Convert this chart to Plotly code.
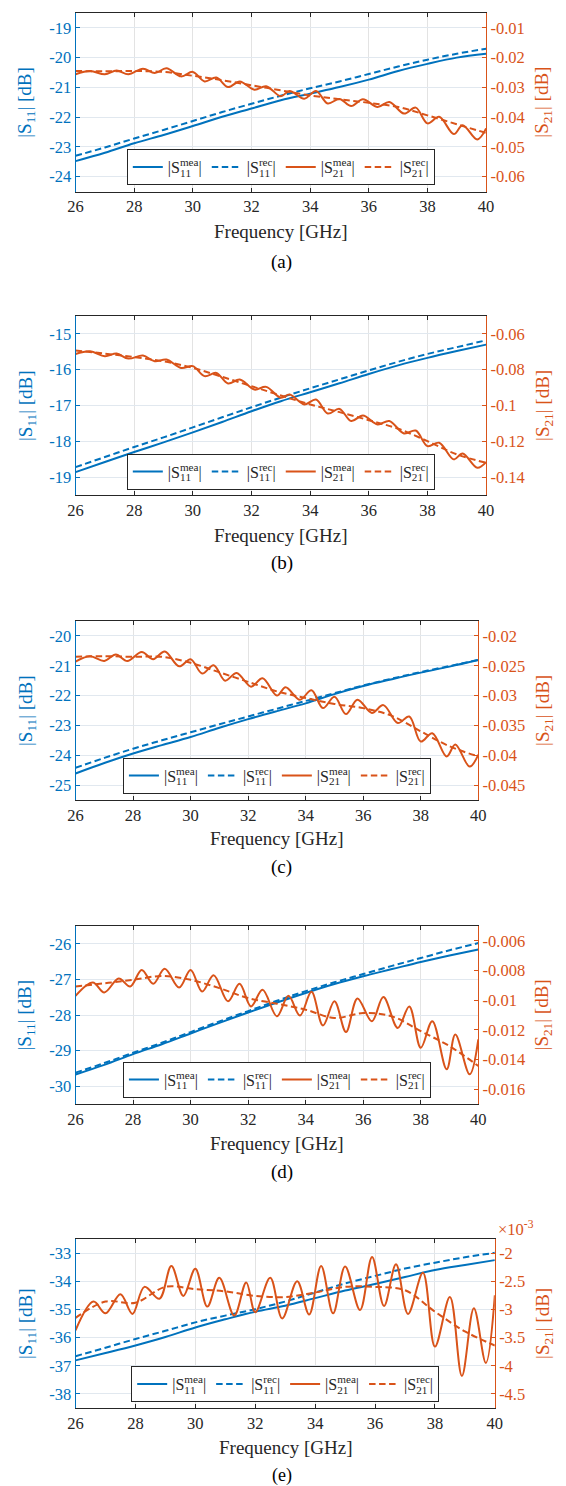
import plotly.graph_objects as go

W, H = 566, 1486
BLUE = '#0072BD'
ORANGE = '#D95319'
DARK = '#262626'
FONT = 'Liberation Serif, Times New Roman, serif'

# ---------------- data ----------------
freq = [26, 27, 28, 29, 30, 31, 32, 33, 34, 35, 36, 37, 38, 39, 40]
x_ticks = [26, 28, 30, 32, 34, 36, 38, 40]

# frequencies of the read-off turning points of the measured |S21| ripple
fm_abc = [26.0, 26.5, 27.0, 27.4, 27.8, 28.3, 28.7, 29.1, 29.6, 30.0, 30.4, 30.8, 31.2, 31.6, 32.1, 32.5, 33.0,
          33.3, 33.8, 34.2, 34.6, 35.0, 35.4, 35.8, 36.3, 36.7, 37.2, 37.6, 38.0, 38.4, 38.9, 39.2, 39.7, 40.0]
fm_d = [26.0, 26.6, 27.0, 27.5, 27.9, 28.3, 28.7, 29.1, 29.6, 30.0, 30.4, 30.8, 31.3, 31.7, 32.1, 32.5, 33.0,
        33.4, 33.8, 34.2, 34.6, 35.0, 35.4, 35.8, 36.3, 36.7, 37.2, 37.6, 38.0, 38.4, 38.9, 39.2, 39.7, 40.0]
fm_e = [26.0, 26.6, 27.0, 27.5, 27.9, 28.3, 28.8, 29.2, 29.6, 30.0, 30.4, 30.8, 31.3, 31.7, 32.0, 32.5, 32.9,
        33.4, 33.8, 34.2, 34.6, 35.0, 35.5, 35.9, 36.3, 36.7, 37.1, 37.6, 38.0, 38.5, 38.9, 39.3, 39.7, 40.0]

# (a)
a_s11_mea = [-23.48, -23.20, -22.88, -22.60, -22.30, -21.99, -21.71, -21.43, -21.21, -20.99, -20.74, -20.45, -20.21, -20.00, -19.87]
a_s11_rec = [-23.30, -23.02, -22.72, -22.43, -22.13, -21.83, -21.55, -21.28, -21.03, -20.80, -20.55, -20.30, -20.07, -19.87, -19.70]
a_s21_mea = [-25.6, -24.5, -25.6, -24.3, -25.6, -23.7, -25.2, -23.6, -26.3, -24.8, -28.0, -26.7, -29.9, -28.0, -30.8, -29.6, -33.0,
             -31.2, -33.8, -31.2, -35.4, -33.9, -36.3, -34.0, -36.6, -34.9, -38.8, -36.8, -42.1, -39.9, -45.7, -42.7, -47.5, -43.8]  # x1e-3
a_s21_rec = [-24.5, -24.6, -24.5, -24.8, -26.1, -27.6, -29.3, -31.0, -32.7, -34.0, -35.2, -36.6, -39.4, -42.4, -45.3]  # x1e-3
a_left_ticks = [-24, -23, -22, -21, -20, -19]
a_right_ticks = [-0.06, -0.05, -0.04, -0.03, -0.02, -0.01]

# (b)
b_s11_mea = [-18.86, -18.58, -18.30, -18.03, -17.75, -17.46, -17.16, -16.88, -16.63, -16.38, -16.12, -15.88, -15.67, -15.48, -15.30]
b_s11_rec = [-18.72, -18.44, -18.16, -17.89, -17.61, -17.33, -17.05, -16.78, -16.52, -16.27, -16.02, -15.78, -15.56, -15.37, -15.18]
b_s21_mea = [-71.2, -69.7, -72.5, -71.0, -73.8, -72.1, -75.3, -74.3, -79.0, -78.0, -83.6, -81.8, -87.7, -85.5, -91.1, -89.6, -95.7,
             -93.9, -99.4, -96.7, -104.5, -101.9, -108.7, -105.6, -110.6, -108.7, -115.6, -114.0, -122.7, -120.8, -130.1, -126.8, -134.8, -131.6]
b_s21_rec = [-69.3, -71.0, -73.0, -75.3, -79.0, -84.0, -89.2, -94.4, -99.4, -103.7, -108.2, -113.0, -119.9, -127.3, -132.0]
b_left_ticks = [-19, -18, -17, -16, -15]
b_right_ticks = [-0.14, -0.12, -0.1, -0.08, -0.06]

# (c)
c_s11_mea = [-24.61, -24.26, -23.94, -23.66, -23.39, -23.08, -22.79, -22.52, -22.26, -21.95, -21.68, -21.45, -21.23, -21.03, -20.81]
c_s11_rec = [-24.42, -24.09, -23.78, -23.50, -23.23, -22.96, -22.70, -22.44, -22.18, -21.92, -21.66, -21.43, -21.21, -21.01, -20.80]
c_s21_mea = [-24.3, -23.4, -24.2, -23.1, -24.2, -22.7, -23.9, -22.6, -25.1, -23.9, -26.3, -24.9, -27.5, -26.2, -28.5, -27.1, -30.0,
             -28.6, -30.7, -29.1, -32.1, -30.2, -33.1, -30.7, -32.9, -31.6, -34.6, -33.5, -37.7, -36.3, -40.2, -38.2, -41.9, -39.9]
c_s21_rec = [-23.5, -23.4, -23.5, -23.5, -24.5, -26.1, -27.7, -29.3, -30.4, -31.4, -32.1, -33.4, -36.0, -38.5, -40.2]
c_left_ticks = [-25, -24, -23, -22, -21, -20]
c_right_ticks = [-0.045, -0.04, -0.035, -0.03, -0.025, -0.02]

# (d)
d_s11_mea = [-29.67, -29.40, -29.10, -28.82, -28.52, -28.22, -27.93, -27.65, -27.38, -27.13, -26.91, -26.71, -26.51, -26.33, -26.16]
d_s11_rec = [-29.62, -29.35, -29.06, -28.78, -28.48, -28.18, -27.89, -27.60, -27.33, -27.08, -26.85, -26.62, -26.40, -26.18, -25.98]
d_s21_mea = [-9.71, -8.81, -9.48, -8.54, -9.08, -7.96, -8.90, -7.88, -9.15, -7.96, -9.42, -8.32, -10.08, -8.90, -10.42, -9.30, -11.09,
             -9.71, -11.04, -9.44, -11.71, -10.08, -12.14, -9.88, -11.42, -9.79, -11.87, -10.42, -13.21, -11.42, -14.66, -12.32, -15.0, -12.65]
d_s21_rec = [-9.08, -8.86, -8.63, -8.37, -8.63, -9.19, -9.86, -10.24, -10.64, -11.20, -10.87, -11.09, -12.09, -13.10, -14.44]
d_left_ticks = [-30, -29, -28, -27, -26]
d_right_ticks = [-0.016, -0.014, -0.012, -0.01, -0.008, -0.006]

# (e)  (|S21| axis in units of 1e-3 dB)
e_s11_mea = [-36.81, -36.55, -36.28, -35.98, -35.64, -35.35, -35.08, -34.87, -34.60, -34.33, -34.10, -33.85, -33.60, -33.42, -33.25]
e_s11_rec = [-36.66, -36.36, -36.05, -35.76, -35.46, -35.22, -34.99, -34.72, -34.40, -34.08, -33.81, -33.55, -33.34, -33.15, -32.99]
e_s21_mea = [-3.37, -2.86, -3.07, -2.73, -3.08, -2.60, -2.81, -2.23, -2.76, -2.28, -2.95, -2.44, -3.11, -2.52, -3.05, -2.44, -3.16,
             -2.50, -3.09, -2.23, -3.07, -2.24, -3.01, -2.07, -2.94, -2.20, -3.08, -2.35, -3.66, -2.78, -4.18, -2.98, -3.95, -2.75]
e_s21_rec = [-3.15, -2.86, -2.88, -2.60, -2.64, -2.68, -2.76, -2.78, -2.70, -2.60, -2.60, -2.66, -3.04, -3.39, -3.64]
e_left_ticks = [-38, -37, -36, -35, -34, -33]
e_right_ticks = [-4.5, -4, -3.5, -3, -2.5, -2]

LEG_SIZE = 16
SUB_SHIFT = 0.7 * LEG_SIZE  # width of the two subscript digits, so the superscript stacks above them


def leg_label(idx, tag):
    return (f'|S<sub>{idx[0]}<span style="letter-spacing:-{SUB_SHIFT:.1f}px">{idx[1]}</span></sub>'
            f'<sup>{tag}</sup>|')


legend_names = [leg_label('11', 'mea'), leg_label('11', 'rec'), leg_label('21', 'mea'), leg_label('21', 'rec')]

panels = [
    dict(tag='(a)', s11m=a_s11_mea, s11r=a_s11_rec, fm=fm_abc, s21m=a_s21_mea, s21r=a_s21_rec, scale=1e-3,
         lr=[-24.5, -18.5], lt=a_left_ticks, rr=[-0.065, -0.005], rt=a_right_ticks,
         box=(69.5, 492, 13, 191.5), leg=167, xt=231, cap=262),
    dict(tag='(b)', s11m=b_s11_mea, s11r=b_s11_rec, fm=fm_abc, s21m=b_s21_mea, s21r=b_s21_rec, scale=1e-3,
         lr=[-19.5, -14.5], lt=b_left_ticks, rr=[-0.15, -0.05], rt=b_right_ticks,
         box=(69.5, 492, 316, 495), leg=471.5, xt=535, cap=563),
    dict(tag='(c)', s11m=c_s11_mea, s11r=c_s11_rec, fm=fm_abc, s21m=c_s21_mea, s21r=c_s21_rec, scale=1e-3,
         lr=[-25.5, -19.5], lt=c_left_ticks, rr=[-0.0475, -0.0175], rt=c_right_ticks,
         box=(69.5, 484, 621, 800), leg=775.5, xt=838, cap=867),
    dict(tag='(d)', s11m=d_s11_mea, s11r=d_s11_rec, fm=fm_d, s21m=d_s21_mea, s21r=d_s21_rec, scale=1e-3,
         lr=[-30.5, -25.5], lt=d_left_ticks, rr=[-0.017, -0.005], rt=d_right_ticks,
         box=(69.5, 484, 926, 1104), leg=1079.5, xt=1143, cap=1172),
    dict(tag='(e)', s11m=e_s11_mea, s11r=e_s11_rec, fm=fm_e, s21m=e_s21_mea, s21r=e_s21_rec, scale=1.0,
         lr=[-38.5, -32.5], lt=e_left_ticks, rr=[-4.75, -1.75], rt=e_right_ticks,
         box=(69.5, 501, 1239, 1408), leg=1384, xt=1447, cap=1475),
]

fig = go.Figure()
layout = dict(width=W, height=H, margin=dict(l=0, r=0, t=0, b=0), paper_bgcolor='white',
              plot_bgcolor='white', font=dict(family=FONT, size=16, color=DARK), showlegend=True)
annotations = []


def px(x):
    return x / W


def py(y):
    return 1 - y / H


DASH = '6.5px,3.5px'
TICK_SIZE = 16.5
TITLE_SIZE = 19

for i, p in enumerate(panels):
    k = i + 1
    xname = 'x' if k == 1 else f'x{k}'
    ylname = 'y' if k == 1 else f'y{2 * k - 1}'
    yrname = f'y{2 * k}'
    legname = 'legend' if k == 1 else f'legend{k}'
    x0, x1, y0, y1 = p['box']

    specs = [
        (freq, p['s11m'], ylname, BLUE, 'solid', legend_names[0]),
        (freq, p['s11r'], ylname, BLUE, DASH, legend_names[1]),
        (p['fm'], [v * p['scale'] for v in p['s21m']], yrname, ORANGE, 'solid', legend_names[2]),
        (freq, [v * p['scale'] for v in p['s21r']], yrname, ORANGE, DASH, legend_names[3]),
    ]
    for xs, ys, yax, col, dash, name in specs:
        fig.add_trace(go.Scatter(x=xs, y=ys, xaxis=xname, yaxis=yax, mode='lines', name=name,
                                 line=dict(color=col, width=2, dash=dash, shape='spline', smoothing=1.0),
                                 legend=legname, hoverinfo='skip'))

    xkey = 'xaxis' if k == 1 else f'xaxis{k}'
    ylkey = 'yaxis' if k == 1 else f'yaxis{2 * k - 1}'
    yrkey = f'yaxis{2 * k}'
    layout[xkey] = dict(domain=[px(x0), px(x1)], anchor=ylname, range=[26, 40], tickvals=x_ticks,
                        ticktext=[str(t) for t in x_ticks], ticks='inside', ticklen=4, tickcolor=DARK,
                        showline=True, linecolor=DARK, linewidth=1, mirror='ticks', showgrid=True,
                        gridcolor='#e3e3e3', gridwidth=1, zeroline=False,
                        tickfont=dict(family=FONT, size=TICK_SIZE, color=DARK))
    layout[ylkey] = dict(domain=[py(y1), py(y0)], anchor=xname, range=p['lr'], tickvals=p['lt'],
                         ticktext=[f'{t:g}' for t in p['lt']], ticks='inside', ticklen=4, tickcolor=BLUE,
                         showline=True, linecolor=BLUE, linewidth=1, showgrid=True, gridcolor='#e1e8ef',
                         gridwidth=1, zeroline=False, tickfont=dict(family=FONT, size=TICK_SIZE, color=BLUE))
    layout[yrkey] = dict(overlaying=ylname, side='right', anchor=xname, range=p['rr'], tickvals=p['rt'],
                         ticktext=[f'{t:g}' for t in p['rt']], ticks='inside', ticklen=4, tickcolor=ORANGE,
                         showline=True, linecolor=ORANGE, linewidth=1, showgrid=False, zeroline=False,
                         tickfont=dict(family=FONT, size=TICK_SIZE, color=ORANGE))
    layout[legname] = dict(orientation='h', x=px((x0 + x1) / 2), y=py(p['leg']), xanchor='center',
                           yanchor='middle', bgcolor='white', bordercolor=DARK, borderwidth=1,
                           font=dict(family=FONT, size=LEG_SIZE, color=DARK), itemwidth=30,
                           tracegroupgap=0, traceorder='normal')

    yc = (y0 + y1) / 2
    annotations += [
        dict(text='|S<sub>11</sub>| [dB]', x=px(19), y=py(yc), xref='paper', yref='paper', showarrow=False,
             textangle=-90, font=dict(family=FONT, size=TITLE_SIZE, color=BLUE), xanchor='center', yanchor='middle'),
        dict(text='|S<sub>21</sub>| [dB]', x=px(551), y=py(yc), xref='paper', yref='paper', showarrow=False,
             textangle=-90, font=dict(family=FONT, size=TITLE_SIZE, color=ORANGE), xanchor='center', yanchor='middle'),
        dict(text='Frequency [GHz]', x=px((x0 + x1) / 2), y=py(p['xt']), xref='paper', yref='paper',
             showarrow=False, font=dict(family=FONT, size=TITLE_SIZE, color=DARK), xanchor='center', yanchor='middle'),
        dict(text=p['tag'], x=px(281.5), y=py(p['cap']), xref='paper', yref='paper',
             showarrow=False, font=dict(family=FONT, size=TITLE_SIZE if k < 5 else 18, color='black'),
             xanchor='center', yanchor='middle'),
    ]

annotations.append(dict(text='×10<sup>-3</sup>', x=px(523), y=py(1228), xref='paper', yref='paper',
                        showarrow=False, font=dict(family=FONT, size=TICK_SIZE, color=ORANGE),
                        xanchor='center', yanchor='middle'))
layout['annotations'] = annotations
fig.update_layout(**layout)
fig.write_html('out.html', config={'displayModeBar': False},
               post_script="document.body.style.margin='0px';document.body.style.overflow='hidden';")
